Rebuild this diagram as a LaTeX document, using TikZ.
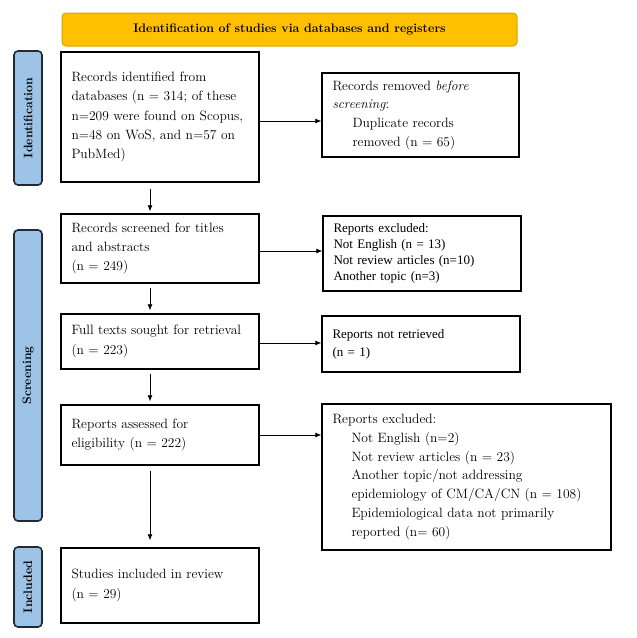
\documentclass[tikz,border=0pt]{standalone}
\usepackage{fontspec}
\newfontfamily\timesfont{Liberation Serif}
\usetikzlibrary{arrows.meta}

\definecolor{hdrfill}{HTML}{FFC000}
\definecolor{hdrline}{HTML}{D9A400}
\definecolor{sidefill}{HTML}{9DC3E6}
\definecolor{sideline}{HTML}{1F2A36}

\begin{document}
\begin{tikzpicture}[x = 1pt, y = -1pt,
    box/.style = {draw, line width = 1.4pt, align = left, inner xsep = 10.5pt, inner ysep = 0pt,
                  font = \fontsize{13.5}{19.3}\selectfont},
    tbox/.style = {box, font = \timesfont\fontsize{13}{16}\selectfont},
    side/.style = {draw = sideline, fill = sidefill, line width = 1.6pt, rounded corners = 4pt,
                   rotate = 90, minimum height = 28pt, inner sep = 0pt,
                   font = \bfseries\fontsize{12.3}{14}\selectfont},
    arr/.style = {-{Latex[length = 6pt, width = 5pt]}, line width = 0.8pt}]

    \useasboundingbox (0,0) rectangle (637,638);

    % header
    \node[draw = hdrline, fill = hdrfill, line width = 1pt, rounded corners = 4pt,
          minimum width = 455pt, minimum height = 33pt,
          font = \bfseries\fontsize{12.4}{14}\selectfont] (head) at (289.5,29.5)
          {Identification of studies via databases and registers};

    % phases
    \node[side, minimum width = 134pt] (sideid) at (28,118) {Identification};
    \node[side, minimum width = 291pt] (sidescr) at (28,375.5) {Screening};
    \node[side, minimum width = 80pt] (sideinc) at (28,587) {Included};

    % main column
    \node[box, text width = 177pt, minimum height = 130pt] (ident) at (160,117)
        {Records identified from\\ databases (n = 314; of these\\ n=209 were found on Scopus,\\
         n=48 on WoS, and n=57 on\\ PubMed)};
    \node[box, text width = 177pt, minimum height = 69pt] (screen) at (160,248.5)
        {Records screened for titles\\ and abstracts\\ (n = 249)};
    \node[box, text width = 177pt, minimum height = 55pt] (sought) at (160,341.5)
        {Full texts sought for retrieval\\ (n = 223)};
    \node[box, text width = 177pt, minimum height = 60pt] (assess) at (160,435)
        {Reports assessed for\\ eligibility (n = 222)};
    \node[box, text width = 177pt, minimum height = 75pt] (incl) at (160,585.5)
        {Studies included in review\\ (n = 29)\\[6pt]};

    % side column
    \node[box, text width = 176pt, minimum height = 84pt, font = \fontsize{13.5}{18.7}\selectfont]
        (removed) at (420.5,115)
        {Records removed \textit{before}\\ \textit{screening}:\\
         \hspace*{20pt}Duplicate records\\ \hspace*{20pt}removed (n = 65)};
    \node[tbox, text width = 177pt, minimum height = 75pt] (excla) at (422,253.5)
        {Reports excluded:\\ Not English (n = 13)\\ Not review articles (n=10)\\ Another topic (n=3)};
    \node[tbox, text width = 177pt, minimum height = 56pt,
          font = \timesfont\fontsize{13}{18}\selectfont] (notret) at (421,344)
        {Reports not retrieved\\ (n = 1)};
    \node[box, text width = 268pt, minimum height = 146pt,
          font = \fontsize{13.5}{18.7}\selectfont] (exclb) at (466.5,477)
        {Reports excluded:\\
         \hspace*{19pt}Not English (n=2)\\
         \hspace*{19pt}Not review articles (n = 23)\\
         \hspace*{19pt}Another topic/not addressing\\
         \hspace*{19pt}epidemiology of CM/CA/CN (n = 108)\\
         \hspace*{19pt}Epidemiological data not primarily\\
         \hspace*{19pt}reported (n= 60)};

    % arrows down
    \draw[arr, shorten <= 6pt, shorten >= 2pt] ([xshift = -10pt]ident.south) -- ([xshift = -10pt]ident.south |- screen.north);
    \draw[arr, shorten <= 4pt, shorten >= 3pt] ([xshift = -10pt]screen.south) -- ([xshift = -10pt]screen.south |- sought.north);
    \draw[arr, shorten <= 4pt, shorten >= 3pt] ([xshift = -10pt]sought.south) -- ([xshift = -10pt]sought.south |- assess.north);
    \draw[arr, shorten <= 5pt, shorten >= 7pt] ([xshift = -10pt]assess.south) -- ([xshift = -10pt]assess.south |- incl.north);

    % arrows right
    \draw[arr] ([yshift = -4pt]ident.east) -- ([yshift = -4pt]ident.east -| removed.west);
    \draw[arr] ([yshift = -2.5pt]screen.east) -- ([yshift = -2.5pt]screen.east -| excla.west);
    \draw[arr] ([yshift = -1.5pt]sought.east) -- ([yshift = -1.5pt]sought.east -| notret.west);
    \draw[arr] (assess.east) -- (assess.east -| exclb.west);
\end{tikzpicture}
\end{document}
